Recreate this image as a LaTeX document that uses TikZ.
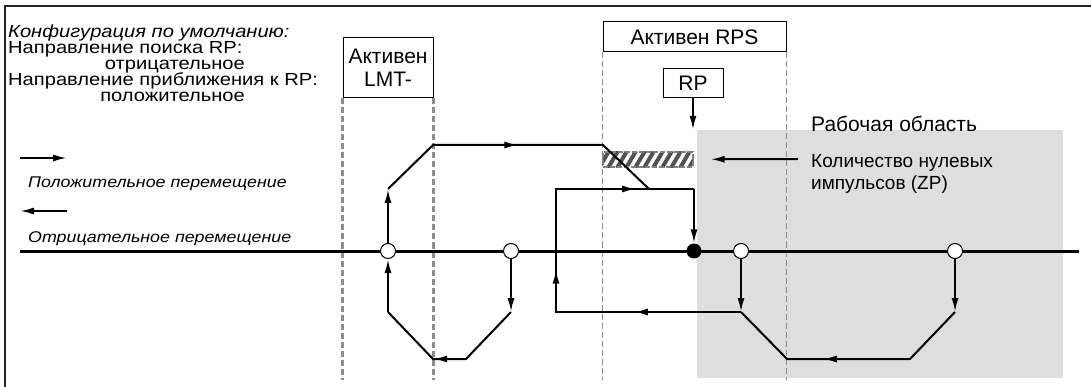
\documentclass[tikz,border=0pt]{standalone}
\usepackage{fontspec}
\setmainfont{Liberation Sans}
\newfontfamily\widefont[FakeStretch=1.15]{Liberation Sans}
\usetikzlibrary{arrows.meta,positioning,decorations.markings}
\tikzset{
  frame/.style    = {draw=black!85, line width=1.3pt},
  axis/.style     = {line width=3pt},
  trace/.style    = {line width=2pt},
  tip/.style      = {-{Latex[length=14pt,width=7pt]}},
  midarrow/.style = {postaction={decorate, decoration={markings,
                       mark=at position #1 with {\arrow{Latex[length=14pt,width=7pt]}}}}},
  ocirc/.style    = {circle, draw, fill=white, line width=1pt, minimum size=15pt, inner sep=0pt},
  dcirc/.style    = {circle, fill=black, minimum size=15pt, inner sep=0pt},
  limit/.style    = {draw, line width=1pt, fill=white, align=center, inner sep=1pt,
                     font=\fontsize{21}{23}\selectfont},
  guide/.style    = {draw=black!45, line width=1.3pt, dash pattern=on 6pt off 3pt},
  guideb/.style   = {guide, line width=2.4pt},
  zpbox/.style    = {draw=black!50, line width=1.3pt, dash pattern=on 5pt off 2pt,
                     minimum width=90pt, minimum height=15pt, inner sep=0pt},
  stripe/.style   = {draw=black!68, line width=4pt},
  workarea/.style = {fill=black!13, minimum width=366pt, minimum height=248pt, inner sep=0pt},
  txt/.style      = {font=\widefont\fontsize{17.5}{15}\selectfont, inner sep=0pt},
  leg/.style      = {font=\widefont\fontsize{15.5}{15}\selectfont\itshape, inner sep=0pt},
}
\begin{document}
\begin{tikzpicture}[x=1pt, y=-1pt]
  \useasboundingbox (0,0) rectangle (1091,387);
  \draw[frame] (5,387) -- (5,6) -- (1091,6);

  % working area in the background
  \node[workarea] (wa) at (880,254) {};
  \node[anchor=base west, font=\fontsize{21}{23}\selectfont, inner sep=0pt] (walbl) at (811,131.5) {Рабочая область};

  % default settings
  \node[txt, anchor=base west, font=\widefont\fontsize{17.5}{15}\selectfont\itshape] (cfg) at (8,37.5) {Конфигурация по умолчанию:};
  \node[txt, anchor=base west] (dir1) at (8,53.5) {Направление поиска RP:};
  \node[txt, anchor=base east] (neg) at (245,69.5) {отрицательное};
  \node[txt, anchor=base west] (dir2) at (8,85.5) {Направление приближения к RP:};
  \node[txt, anchor=base east] (pos) at (245,101.5) {положительное};

  % legend
  \coordinate (l1) at (20,158);
  \coordinate (l2) at (67,158);
  \coordinate (l3) at (67,211);
  \coordinate (l4) at (20,211);
  \draw[trace, tip] (l1) -- (l2);
  \draw[trace, tip] (l3) -- (l4);
  \node[leg, anchor=base west] (posmv) at (28,188) {Положительное перемещение};
  \node[leg, anchor=base west] (negmv) at (28,242) {Отрицательное перемещение};

  % limit switch and reference cam
  \coordinate (bot) at (0,380);
  \node[limit, minimum width=90pt, minimum height=60pt] (lmt) at (388,68) {Активен\\LMT-};
  \node[limit, minimum width=183pt, minimum height=30pt] (rps) at (694.5,37) {Активен RPS};
  \node[limit, minimum width=60pt, minimum height=29pt] (rp) at (693,83.5) {RP};
  \draw[guideb] (lmt.south west) -- (lmt.south west |- bot);
  \draw[guideb] (lmt.south east) -- (lmt.south east |- bot);
  \draw[guide] (rps.south west) -- (rps.south west |- bot);
  \draw[guide] (rps.south east) -- (rps.south east |- bot);
  \draw[trace, tip] (rp.south) -- (rp.south |- wa.north);

  % zero pulses
  \node[zpbox] (zp) at (648,159.5) {};
  \begin{scope}
    \clip (zp.south west) rectangle (zp.north east);
    \foreach \x in {590,599,...,700}
      \draw[stripe] (\x,168) -- ++(10,-17);
  \end{scope}
  \node[zpbox] at (zp) {};
  \node[anchor=base west, align=left, font=\fontsize{19}{22}\selectfont, inner sep=0pt] (zplbl) at (811,190)
    {Количество нулевых\\импульсов (ZP)};
  \coordinate (zpsrc) at (798,159);
  \draw[trace, tip, shorten >=17pt] (zpsrc) -- (zp);

  % axis
  \coordinate (ax1) at (20,251);
  \coordinate (ax2) at (1079,251);
  \draw[axis] (ax1) -- (ax2);
  \node[ocirc] (c1) at (388,251) {};
  \node[ocirc] (c2) at (511,251) {};
  \node[dcirc] (dot) at (694,251) {};
  \node[ocirc] (c3) at (741,251) {};
  \node[ocirc] (c4) at (955,251) {};

  % corners of the search paths
  \coordinate (a1) at (388,189);
  \coordinate (a2) at (433,145);
  \coordinate (a3) at (603,145);
  \coordinate (a4) at (649,189);
  \coordinate (b1) at (388,312);
  \coordinate (b2) at (433,359);
  \coordinate (b3) at (466,359);
  \coordinate (b4) at (511,312);
  \coordinate (r1) at (556,189);
  \coordinate (r2) at (694,189);
  \coordinate (r3) at (556,312);
  \coordinate (r4) at (741,312);
  \coordinate (e1) at (955,312);
  \coordinate (e2) at (910,359);
  \coordinate (e3) at (787,359);

  \draw[trace, tip] (c1) -- (a1);
  \draw[trace, midarrow=0.5] (a1) -- (a2) -- (a3) -- (a4);
  \draw[trace, tip] (c2) -- (b4);
  \draw[trace, midarrow=0.6] (b4) -- (b3) -- (b2) -- (b1);
  \draw[trace, tip] (b1) -- (c1);
  \draw[trace, tip] (c3) -- (r4);
  \draw[trace, midarrow=0.24, midarrow=0.51, midarrow=0.87] (r4) -- (r3) -- (r1) -- (r2);
  \draw[trace, tip] (r2) -- (dot);
  \draw[trace, tip] (c4) -- (e1);
  \draw[trace, midarrow=0.6] (e1) -- (e2) -- (e3) -- (r4);
\end{tikzpicture}
\end{document}
